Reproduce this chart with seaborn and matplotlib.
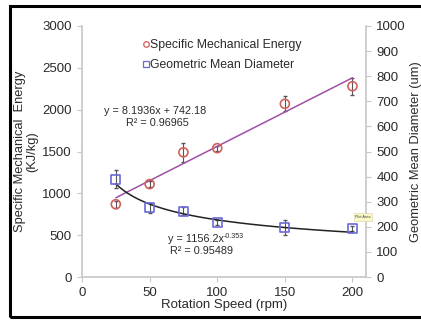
import numpy as np
import pandas as pd
import matplotlib
matplotlib.use("Agg")
import matplotlib.pyplot as plt
import seaborn as sns
from matplotlib.lines import Line2D
from matplotlib.patches import Rectangle

# ---- data ----
speed = [25, 50, 75, 100, 150, 200]
sme = [870, 1110, 1490, 1540, 2070, 2280]
sme_err = [40, 40, 110, 30, 90, 100]
gmd = [390, 275, 262, 218, 198, 193]
gmd_err = [35, 20, 15, 10, 30, 10]
sme_fit = (8.1936, 742.18)      # slope, intercept
gmd_fit = (1156.2, -0.353)      # coefficient, exponent
x_ticks = [0, 50, 100, 150, 200]
left_ticks = [0, 500, 1000, 1500, 2000, 2500, 3000]
right_ticks = [0, 100, 200, 300, 400, 500, 600, 700, 800, 900, 1000]

sns.set_theme(style="white")
plt.rcParams['font.family'] = ['Liberation Sans', 'DejaVu Sans']

W, H = 421, 321
fig = plt.figure(figsize=(W / 100, H / 100), dpi=100)
ax = fig.add_axes([82 / W, 1 - 277 / H, (366 - 82) / W, (277 - 26) / H])
ax2 = ax.twinx()

df = pd.DataFrame({"speed": speed, "sme": sme, "gmd": gmd})
fx = np.linspace(min(speed), max(speed), 100)
fit_df = pd.DataFrame({"x": fx,
                       "sme": sme_fit[0] * fx + sme_fit[1],
                       "gmd": gmd_fit[0] * fx ** gmd_fit[1]})

red = "#d0605a"
blue = "#6a6ad8"
purple = "#a04fa8"
grey = "#555555"
txt = "#2a2a2a"

# SME
ax.errorbar(speed, sme, yerr=sme_err, fmt="none", ecolor=grey, elinewidth=0.8,
            capsize=1.5, zorder=2)
sns.lineplot(data=fit_df, x="x", y="sme", ax=ax, color=purple, lw=1.1, zorder=3)
sns.scatterplot(data=df, x="speed", y="sme", ax=ax, marker="o", s=42,
                facecolor="none", edgecolor=red, linewidth=1.2, zorder=4)

# GMD
ax2.errorbar(speed, gmd, yerr=gmd_err, fmt="none", ecolor=grey, elinewidth=0.8,
             capsize=1.5, zorder=2)
sns.lineplot(data=fit_df, x="x", y="gmd", ax=ax2, color="#222222", lw=1.1, zorder=3)
sns.scatterplot(data=df, x="speed", y="gmd", ax=ax2, marker="s", s=42,
                facecolor="none", edgecolor=blue, linewidth=1.2, zorder=4)

ax.set_xlim(0, 210)
ax.set_ylim(0, 3000)
ax2.set_ylim(0, 1000)
ax.set_xticks(x_ticks)
ax.set_yticks(left_ticks)
ax2.set_yticks(right_ticks)

sc = "#c8c8c8"
for a in (ax, ax2):
    for s in a.spines.values():
        s.set_visible(False)
    a.tick_params(labelsize=9.5, colors=txt, length=3.5, width=0.8,
                  color=sc, pad=4)
ax.spines["left"].set_visible(True)
ax.spines["left"].set_color(sc)
ax.spines["bottom"].set_visible(True)
ax.spines["bottom"].set_color(sc)
ax2.spines["right"].set_visible(True)
ax2.spines["right"].set_color(sc)
ax.tick_params(axis="both", direction="out", left=True, bottom=True)
ax2.tick_params(axis="y", direction="out", right=True)

ax.set_xlabel("Rotation Speed (rpm)", fontsize=9.5, color=txt, labelpad=0)
ax.set_ylabel("Specific Mechanical  Energy\n(KJ/kg)", fontsize=9.3,
              color=txt, labelpad=3, linespacing=1.0)
ax2.set_ylabel("Geometric Mean Diameter (um)", fontsize=9.3, color=txt,
               rotation=90, labelpad=3)

# legend
handles = [Line2D([], [], marker="o", ls="none", mfc="none", mec=red, ms=4, mew=0.9),
           Line2D([], [], marker="s", ls="none", mfc="none", mec=blue, ms=4, mew=0.9)]
ax.legend(handles, ["Specific Mechanical Energy", "Geometric Mean Diameter"],
          loc="upper left", bbox_to_anchor=((137 - 82) / 284, 1 - (34 - 26) / 251),
          frameon=False, fontsize=8.8, handlelength=0.6, handletextpad=0.1,
          labelspacing=0.7, borderaxespad=0, labelcolor=txt)

# equations
ax.text(155 / W, 1 - 111 / H, "y = 8.1936x + 742.18", transform=fig.transFigure,
        fontsize=7.8, ha="center", va="center", color=txt)
ax.text(157 / W, 1 - 123 / H, "R² = 0.96965", transform=fig.transFigure,
        fontsize=7.8, ha="center", va="center", color=txt)
ax.text(168 / W, 1 - 239 / H, "y = 1156.2x", transform=fig.transFigure,
        fontsize=7.8, ha="left", va="center", color=txt)
ax.text(224 / W, 1 - 236 / H, "-0.353", transform=fig.transFigure,
        fontsize=5, ha="left", va="center", color=txt)
ax.text(202 / W, 1 - 251 / H, "R² = 0.95489", transform=fig.transFigure,
        fontsize=7.8, ha="center", va="center", color=txt)

# tooltip artifact
fig.text(363 / W, 1 - 217 / H, "Plot Area", fontsize=2.8, ha="center", va="center",
         color="#444444",
         bbox=dict(boxstyle="square,pad=0.4", fc="#fbf7c8", ec="#d8d4a0", lw=0.4))

# frame (right edge runs off the image)
fig.patches.append(Rectangle((9.5 / W, 1 - 316.5 / H), 430 / W, (316.5 - 5.5) / H,
                             transform=fig.transFigure, fill=False, ec="black",
                             lw=2.2, zorder=10))

fig.savefig("out.png", dpi=100)
